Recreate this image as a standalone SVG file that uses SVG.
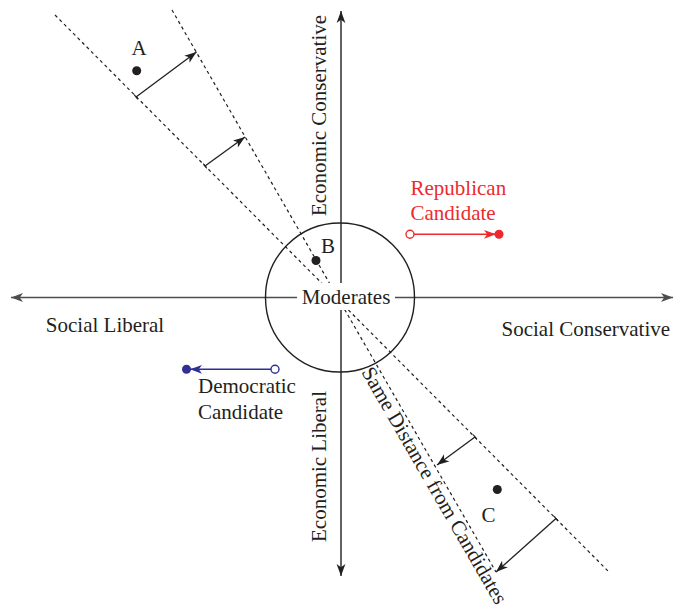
<svg xmlns="http://www.w3.org/2000/svg" width="675" height="615" viewBox="0 0 675 615">
<style>
text{font-family:"Liberation Serif","Times New Roman",serif;font-size:21px;fill:#231f20}
.dash{stroke:#231f20;stroke-width:1.2;stroke-dasharray:3.2 3.2;fill:none}
.arr{stroke:#231f20;stroke-width:1.3;fill:none;marker-end:url(#ahk);marker-start:url(#tick)}
.red{fill:#ec2a2e}
.blue{fill:#2e3192}
</style>
<defs>
<marker id="ahk" markerUnits="userSpaceOnUse" markerWidth="13" markerHeight="10" viewBox="0 0 13 10" refX="12" refY="5" orient="auto"><path d="M0,0.6 L12,5 L0,9.4 L3.2,5 Z" fill="#231f20"/></marker>
<marker id="ahg" markerUnits="userSpaceOnUse" markerWidth="13" markerHeight="10" viewBox="0 0 13 10" refX="12" refY="5" orient="auto-start-reverse"><path d="M0,0.6 L12,5 L0,9.4 L3.2,5 Z" fill="#4d4d4d"/></marker>
<marker id="ahv" markerUnits="userSpaceOnUse" markerWidth="13" markerHeight="10" viewBox="0 0 13 10" refX="12" refY="5" orient="auto-start-reverse"><path d="M0,0.6 L12,5 L0,9.4 L3.2,5 Z" fill="#231f20"/></marker>
<marker id="ahr" markerUnits="userSpaceOnUse" markerWidth="13" markerHeight="10" viewBox="0 0 13 10" refX="12" refY="5" orient="auto"><path d="M0,0.6 L12,5 L0,9.4 L3.2,5 Z" fill="#ec2a2e"/></marker>
<marker id="ahb" markerUnits="userSpaceOnUse" markerWidth="13" markerHeight="10" viewBox="0 0 13 10" refX="12" refY="5" orient="auto"><path d="M0,0.6 L12,5 L0,9.4 L3.2,5 Z" fill="#2e3192"/></marker>
<marker id="tick" markerUnits="userSpaceOnUse" markerWidth="2" markerHeight="8" viewBox="-1 -4 2 8" refX="0" refY="0" orient="auto"><path d="M0,-3 L0,3" stroke="#231f20" stroke-width="1.2"/></marker>
</defs>
<rect width="675" height="615" fill="#fff"/>

<g id="connectors">
  <line id="axis-h" x1="11" y1="297.5" x2="673" y2="297.5" stroke="#4d4d4d" stroke-width="1.6" marker-start="url(#ahg)" marker-end="url(#ahg)"/>
  <line id="axis-v" x1="341" y1="11" x2="341" y2="576" stroke="#231f20" stroke-width="1.4" marker-start="url(#ahv)" marker-end="url(#ahv)"/>
  <line id="indiff-x" class="dash" x1="55" y1="15" x2="608" y2="571"/>
  <line id="indiff-y" class="dash" x1="172" y1="10" x2="496" y2="572"/>
  <line id="arrow-1" class="arr" x1="136" y1="97" x2="196.5" y2="52"/>
  <line id="arrow-2" class="arr" x1="205" y1="166" x2="245" y2="137"/>
  <line id="arrow-3" class="arr" x1="475" y1="437" x2="437" y2="465"/>
  <line id="arrow-4" class="arr" x1="556" y1="518.5" x2="496" y2="572"/>
</g>

<g id="moderates">
  <circle cx="340" cy="297.5" r="74.5" fill="none" stroke="#231f20" stroke-width="1.4"/>
  <rect x="297" y="283" width="98" height="27" fill="#fff"/>
  <text x="346" y="303.5" text-anchor="middle">Moderates</text>
</g>

<g id="label-econ-cons"><text transform="translate(326,115.5) rotate(-90)" text-anchor="middle">Economic Conservative</text></g>
<g id="label-econ-lib"><text transform="translate(326,466.5) rotate(-90)" text-anchor="middle">Economic Liberal</text></g>
<g id="label-soc-lib"><text x="105" y="332" text-anchor="middle">Social Liberal</text></g>
<g id="label-soc-cons"><text x="501.5" y="335.5">Social Conservative</text></g>
<g id="label-same"><text transform="translate(361,372) rotate(60)">Same Distance from Candidates</text></g>

<g id="voter-a">
  <circle cx="136.7" cy="70.7" r="4.5" fill="#231f20"/>
  <text x="139" y="54.5" text-anchor="middle">A</text>
</g>
<g id="voter-b">
  <circle cx="316" cy="260.5" r="4.5" fill="#231f20"/>
  <text x="328" y="253" text-anchor="middle">B</text>
</g>
<g id="voter-c">
  <circle cx="497.3" cy="489.5" r="4.5" fill="#231f20"/>
  <text x="488.5" y="522" text-anchor="middle">C</text>
</g>

<g id="republican">
  <text x="410.5" y="195" class="red" style="fill:#ec2a2e">Republican</text>
  <text x="410.5" y="220" style="fill:#ec2a2e">Candidate</text>
  <line x1="414" y1="234.3" x2="496" y2="234.3" stroke="#ec2a2e" stroke-width="1.4" marker-end="url(#ahr)"/>
  <circle cx="410" cy="234.3" r="4" fill="#fff" stroke="#ec2a2e" stroke-width="1.4"/>
  <circle cx="499" cy="234.3" r="4.5" fill="#ec2a2e"/>
</g>

<g id="democrat">
  <text x="198" y="393.3">Democratic</text>
  <text x="198" y="419">Candidate</text>
  <line x1="271" y1="369.3" x2="190" y2="369.3" stroke="#2e3192" stroke-width="1.4" marker-end="url(#ahb)"/>
  <circle cx="275" cy="369.3" r="4" fill="#fff" stroke="#2e3192" stroke-width="1.4"/>
  <circle cx="186.5" cy="369.3" r="4.5" fill="#2e3192"/>
</g>
</svg>
